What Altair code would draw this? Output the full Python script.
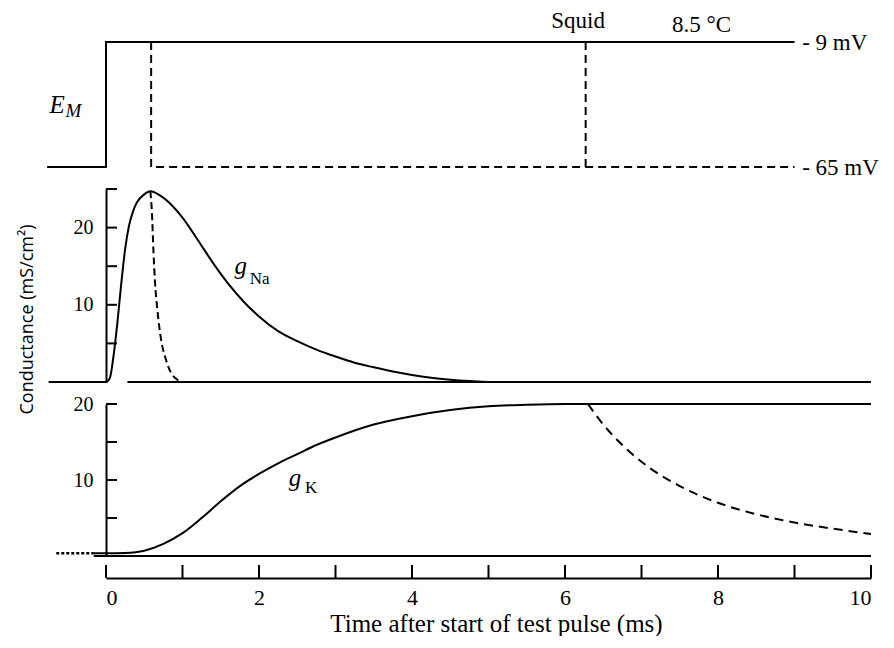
import altair as alt
import pandas as pd

# ---------------- data ----------------
# Membrane potential step (mV)
em_solid_t = [-0.77, 0.0, 0.0, 9.0]
em_solid_v = [-65, -65, -9, -9]
em_dash_a_t = [0.59, 0.59, 9.0]
em_dash_a_v = [-9, -65, -65]
em_dash_b_t = [6.27, 6.27]
em_dash_b_v = [-9, -65]

# Sodium conductance (mS/cm2)
na_t = [-0.75, 0.0, 0.05, 0.1, 0.15, 0.2, 0.25, 0.3, 0.35, 0.4, 0.5, 0.58, 0.7, 0.85,
        1.0, 1.2, 1.4, 1.6, 1.8, 2.0, 2.25, 2.5, 2.75, 3.0, 3.25, 3.5, 3.75, 4.0,
        4.25, 4.5, 4.75, 5.0, 10.0]
na_g = [0, 0, 0.5, 3.5, 7.8, 12.8, 17.2, 20.2, 22.0, 23.2, 24.3, 24.7, 24.2, 23.0,
        21.3, 18.4, 15.4, 12.7, 10.4, 8.5, 6.6, 5.3, 4.2, 3.3, 2.5, 1.9, 1.35, 0.9,
        0.55, 0.3, 0.12, 0, 0]
na_base_t = [0.28, 10.0]
na_base_g = [0, 0]
na_off_t = [0.58, 0.6, 0.62, 0.64, 0.67, 0.72, 0.78, 0.85, 0.92, 1.0]
na_off_g = [24.7, 22.0, 17.0, 13.0, 9.5, 5.5, 3.0, 1.2, 0.4, 0.0]
na_ticks = [5, 10, 15, 20, 25]

# Potassium conductance (mS/cm2)
k_t = [-0.16, 0.0, 0.25, 0.5, 0.75, 1.0, 1.25, 1.5, 1.75, 2.0, 2.25, 2.5, 2.75, 3.0,
       3.5, 4.0, 4.5, 5.0, 5.5, 6.0, 10.0]
k_g = [0.35, 0.35, 0.4, 0.7, 1.6, 3.0, 5.0, 7.2, 9.2, 10.8, 12.2, 13.4, 14.6, 15.6,
       17.3, 18.4, 19.2, 19.7, 19.9, 20.0, 20.0]
k_dot_t = [-0.65, -0.16]
k_dot_g = [0.35, 0.35]
k_base_t = [-0.16, 10.0]
k_base_g = [0, 0]
k_off_t = [6.3, 6.5, 6.75, 7.0, 7.5, 8.0, 8.5, 9.0, 9.5, 10.0]
k_off_g = [20.0, 17.3, 14.6, 12.4, 9.2, 7.0, 5.5, 4.4, 3.6, 2.9]
k_ticks = [5, 10, 15, 20]

x_ticks = [0, 1, 2, 3, 4, 5, 6, 7, 8, 9, 10]
x_labels = [0, 2, 4, 6, 8, 10]

# ---------------- helpers ----------------
W = 765
H1, H2, H3 = 125, 193, 152
SERIF = "Liberation Serif"

xscale = alt.Scale(domain=[0, 10], nice=False, zero=False)


def frame(t, v, name="s"):
    return pd.DataFrame({"t": t, "v": v, "s": name, "i": list(range(len(t)))})


def txt(t, v, text):
    return pd.DataFrame({"t": [t], "v": [v], "text": [text]})


def label(df, x, y, size, italic=False, baseline="middle"):
    return alt.Chart(df).mark_text(
        align="left", baseline=baseline, font=SERIF, fontSize=size,
        fontStyle="italic" if italic else "normal", color="black").encode(
        x=x, y=y, text="text:N")


# ---------------- panel 1 : E_M ----------------
y1 = alt.Y("v:Q", scale=alt.Scale(domain=[-65, -9], nice=False, zero=False), axis=None)
x_none = alt.X("t:Q", scale=xscale, axis=None)

em_solid = alt.Chart(frame(em_solid_t, em_solid_v)).mark_line(
    color="black", strokeWidth=2).encode(x=x_none, y=y1, order="i:Q")
em_dash = alt.Chart(pd.concat([frame(em_dash_a_t, em_dash_a_v, "a"),
                               frame(em_dash_b_t, em_dash_b_v, "b")])).mark_line(
    color="black", strokeWidth=2, strokeDash=[8, 5]).encode(
    x=x_none, y=y1, detail="s:N", order="i:Q")

p1 = alt.layer(
    em_solid, em_dash,
    label(txt(5.82, -2.75, "Squid"), x_none, y1, 23, baseline="alphabetic"),
    label(txt(7.4, -4.6, "8.5 °C"), x_none, y1, 23, baseline="alphabetic"),
    label(txt(9.1, -9.3, "- 9 mV"), x_none, y1, 23),
    label(txt(9.1, -65.3, "- 65 mV"), x_none, y1, 23),
    label(txt(-0.74, -37.0, "E"), x_none, y1, 25, True),
    label(txt(-0.53, -40.0, "M"), x_none, y1, 19, True),
).properties(width=W, height=H1)

# ---------------- panel 2 : g_Na ----------------
yax2 = alt.Axis(values=[10, 20], ticks=False, tickSize=0, labelPadding=13, grid=False,
                title=None, domainColor="black", domainWidth=2)
y2 = alt.Y("v:Q", scale=alt.Scale(domain=[0, 25], nice=False, zero=False), axis=yax2)

na_solid = alt.Chart(pd.concat([frame(na_t, na_g, "na"),
                                frame(na_base_t, na_base_g, "base")])).mark_line(
    color="black", strokeWidth=2, interpolate="monotone").encode(
    x=x_none, y=y2, detail="s:N")
na_dash = alt.Chart(frame(na_off_t, na_off_g)).mark_line(
    color="black", strokeWidth=2, strokeDash=[7, 4], interpolate="monotone").encode(
    x=x_none, y=y2)
na_tk = alt.Chart(pd.DataFrame({"v": na_ticks})).mark_rule(
    color="black", strokeWidth=2).encode(y=y2, x=alt.value(0), x2=alt.value(11))

p2 = alt.layer(
    na_solid, na_dash, na_tk,
    label(txt(1.68, 15.0, "g"), x_none, y2, 25, True),
    label(txt(1.88, 13.3, "Na"), x_none, y2, 17),
).properties(width=W, height=H2)

# ---------------- panel 3 : g_K ----------------
yax3 = alt.Axis(values=[10, 20], ticks=False, tickSize=0, labelPadding=13, grid=False,
                domainColor="black", domainWidth=2,
                title="Conductance (mS/cm²)", titleFont="Open Sans", titleFontSize=18,
                titleFontWeight="normal", titleColor="black",
                titleX=-70, titleY=-85, titleAngle=270)
y3 = alt.Y("v:Q", scale=alt.Scale(domain=[0, 20], nice=False, zero=False), axis=yax3)
xax3 = alt.Axis(values=x_labels, offset=22, ticks=False, tickSize=0, labelPadding=9,
                labelFontSize=22, grid=False, domainColor="black", domainWidth=2,
                title="Time after start of test pulse (ms)", titleFont=SERIF,
                titleFontSize=25, titleFontWeight="normal", titleColor="black",
                titlePadding=3, titleX=390)
x3 = alt.X("t:Q", scale=xscale, axis=xax3)

k_solid = alt.Chart(pd.concat([frame(k_t, k_g, "k"),
                               frame(k_base_t, k_base_g, "base")])).mark_line(
    color="black", strokeWidth=2, interpolate="monotone").encode(
    x=x3, y=y3, detail="s:N")
k_dot = alt.Chart(frame(k_dot_t, k_dot_g)).mark_line(
    color="black", strokeWidth=2.5, strokeDash=[3, 2]).encode(x=x3, y=y3)
k_dash = alt.Chart(frame(k_off_t, k_off_g)).mark_line(
    color="black", strokeWidth=2, strokeDash=[9, 6], interpolate="monotone").encode(
    x=x3, y=y3)
k_tk = alt.Chart(pd.DataFrame({"v": k_ticks})).mark_rule(
    color="black", strokeWidth=2).encode(y=y3, x=alt.value(0), x2=alt.value(11))
x_tk = alt.Chart(pd.DataFrame({"t": x_ticks})).mark_rule(
    color="black", strokeWidth=2).encode(
    x=x3, y=alt.value(H3 + 22), y2=alt.value(H3 + 9))

p3 = alt.layer(
    k_solid, k_dot, k_dash, k_tk, x_tk,
    label(txt(2.39, 10.2, "g"), x3, y3, 25, True),
    label(txt(2.6, 9.0, "K"), x3, y3, 17),
).properties(width=W, height=H3)

chart = alt.vconcat(p1, p2, p3, spacing=22, bounds="flush").resolve_scale(
    y="independent").properties(
    padding={"left": 9, "top": 2, "right": 0, "bottom": 0},
    background="white",
).configure_view(stroke=None).configure_axis(
    labelFont=SERIF, labelFontSize=20, labelColor="black")

chart.save("out.html", embed_options={"renderer": "svg", "actions": False})
